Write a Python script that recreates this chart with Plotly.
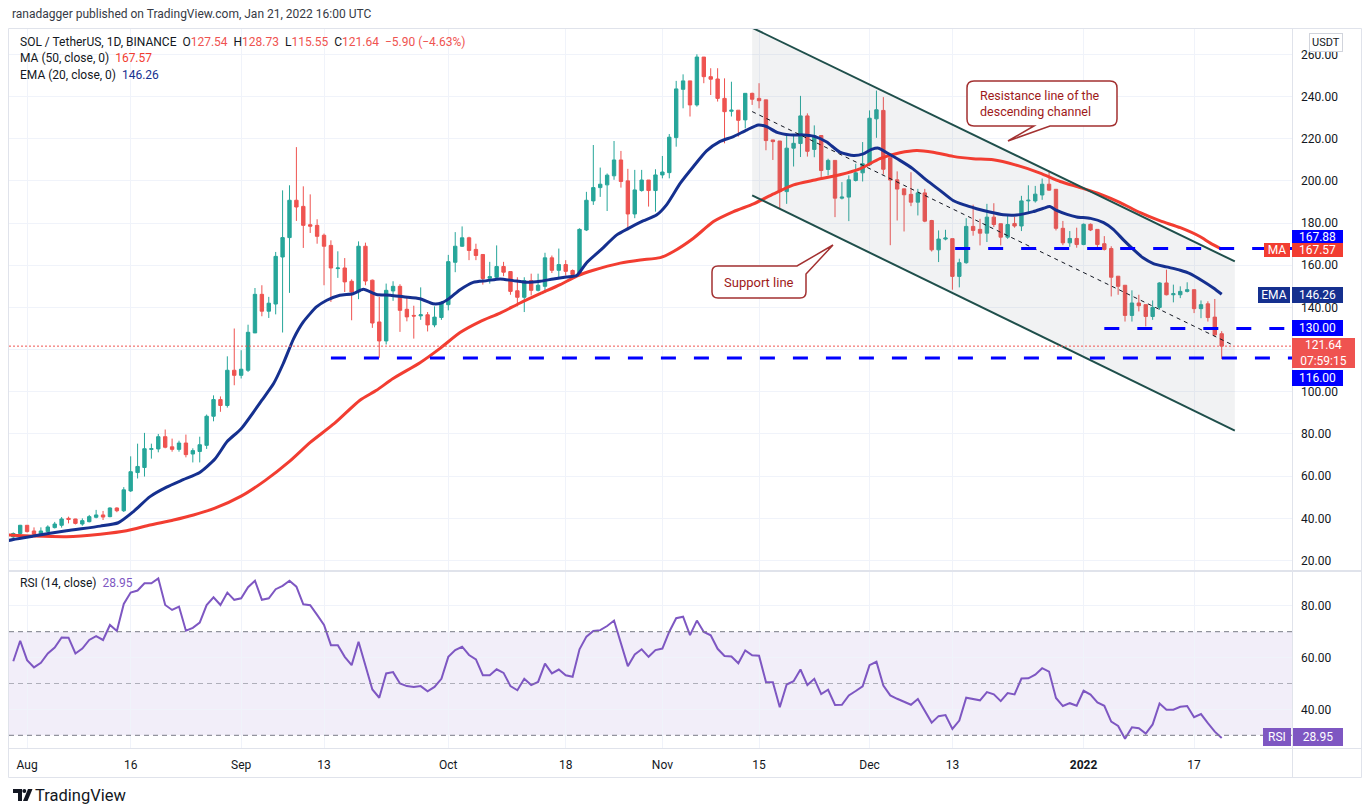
import pandas as pd
import plotly.graph_objects as go

# ---------------- data ----------------
START = "2021-07-30"

OPEN = [31.2, 32.8, 36.7, 34.0, 32.5, 33.7, 35.6, 36.7, 40.0, 39.7,
        37.3, 38.4, 40.5, 41.6, 40.8, 44.9, 43.6, 53.0, 61.7, 64.1,
        72.7, 72.9, 78.7, 73.9, 72.7, 75.7, 70.5, 71.7, 74.6, 88.4,
        96.3, 93.5, 110.2, 107.8, 110.2, 127.9, 146.2, 138.2, 141.6, 163.9,
        173.1, 190.8, 187.9, 179.2, 178.9, 174.2, 169.4, 158.4, 158.7, 152.4,
        147.3, 169.0, 152.9, 133.1, 124.1, 147.8, 150.0, 139.1, 136.2, 136.0,
        136.5, 131.7, 135.2, 141.3, 161.4, 169.0, 173.0, 167.5, 165.1, 153.8,
        154.3, 159.4, 157.0, 147.9, 144.8, 152.7, 148.1, 150.0, 163.5, 157.6,
        160.3, 157.5, 155.6, 176.7, 190.5, 196.8, 198.1, 202.4, 209.9, 200.0,
        184.3, 195.4, 200.4, 195.4, 202.8, 203.9, 220.5, 243.4, 247.4, 236.0,
        258.7, 249.4, 248.3, 239.1, 233.0, 233.5, 228.9, 241.5, 239.1, 238.4,
        219.4, 218.9, 194.9, 215.5, 217.7, 230.8, 214.9, 221.5, 205.4, 209.7,
        191.8, 192.3, 200.2, 203.8, 207.6, 229.4, 233.4, 211.0, 200.5, 196.2,
        193.6, 189.9, 194.3, 181.2, 167.3, 172.4, 172.6, 154.7, 161.2, 178.4,
        177.0, 175.2, 182.8, 179.7, 173.3, 179.8, 178.6, 190.5, 190.5, 193.3,
        198.4, 196.0, 177.5, 170.6, 172.7, 169.8, 179.4, 177.0, 170.2, 167.9,
        154.8, 150.5, 136.2, 142.1, 141.3, 135.7, 140.0, 151.6, 146.0, 146.0,
        147.6, 148.4, 139.4, 141.7, 135.4, 127.54]
HIGH = [33.3, 36.9, 36.8, 35.7, 35.7, 36.7, 38.3, 40.6, 40.8, 39.8,
        40.0, 41.6, 44.0, 43.5, 45.2, 45.2, 54.8, 69.4, 75.4, 80.5,
        75.4, 80.0, 82.1, 77.8, 76.8, 79.7, 73.2, 78.7, 89.2, 98.3,
        97.8, 116.8, 130.0, 119.7, 131.8, 149.2, 150.5, 145.0, 166.3, 195.5,
        197.9, 216.0, 197.4, 193.6, 181.8, 175.0, 171.8, 166.6, 163.4, 153.3,
        171.3, 170.7, 153.2, 145.0, 151.3, 152.4, 151.0, 144.5, 140.8, 149.5,
        137.8, 140.5, 142.9, 164.9, 175.7, 178.4, 173.5, 170.2, 165.1, 161.6,
        169.4, 161.6, 157.0, 154.3, 154.3, 156.0, 156.0, 165.9, 164.6, 167.9,
        162.4, 158.0, 177.5, 194.8, 217.0, 206.3, 203.5, 218.9, 214.2, 205.7,
        205.2, 205.2, 200.4, 205.5, 211.8, 222.2, 247.4, 250.5, 247.4, 260.0,
        258.7, 253.4, 253.4, 248.6, 247.0, 233.5, 241.5, 241.8, 246.3, 238.4,
        219.4, 218.9, 221.8, 221.8, 240.3, 232.0, 226.3, 221.5, 210.5, 209.7,
        199.4, 202.6, 208.1, 218.4, 233.4, 242.8, 239.7, 211.0, 204.5, 196.2,
        204.1, 196.2, 196.2, 181.5, 176.5, 176.8, 172.6, 163.1, 182.3, 188.7,
        182.0, 189.1, 189.4, 179.7, 183.3, 182.9, 192.9, 197.9, 197.6, 201.1,
        204.8, 196.0, 181.0, 176.2, 177.8, 179.8, 179.8, 177.0, 173.8, 169.0,
        154.8, 150.5, 148.1, 146.0, 141.3, 143.3, 151.9, 157.9, 150.8, 150.0,
        151.9, 148.4, 143.3, 142.9, 144.0, 128.73]
LOW = [30.5, 31.8, 33.3, 32.1, 32.0, 33.2, 35.2, 35.6, 37.6, 37.1,
       36.5, 38.1, 40.0, 39.2, 40.5, 42.9, 43.0, 52.5, 58.9, 59.8,
       68.3, 71.3, 73.2, 71.6, 71.6, 68.9, 66.5, 66.5, 72.9, 86.0,
       90.5, 92.5, 103.1, 106.3, 109.4, 127.9, 135.8, 135.0, 136.7, 128.1,
       146.9, 181.0, 168.2, 175.3, 170.2, 150.5, 142.6, 154.0, 147.3, 133.9,
       143.9, 150.5, 130.3, 116.1, 122.4, 143.1, 128.4, 133.4, 125.2, 134.1,
       128.6, 130.6, 134.1, 138.6, 156.7, 168.7, 162.4, 162.4, 150.8, 151.3,
       153.2, 154.8, 146.0, 140.5, 137.8, 145.7, 147.6, 146.8, 156.3, 153.8,
       155.1, 154.3, 155.1, 176.2, 188.6, 192.4, 185.7, 200.5, 196.8, 177.5,
       182.3, 194.9, 187.8, 185.4, 201.2, 201.2, 216.2, 234.4, 230.5, 235.2,
       246.3, 240.7, 237.6, 217.8, 230.5, 221.0, 224.9, 236.0, 234.4, 214.5,
       209.9, 187.0, 189.1, 206.8, 211.3, 211.5, 211.2, 201.0, 202.6, 182.8,
       191.2, 180.9, 199.7, 199.7, 207.0, 220.4, 203.0, 169.5, 181.2, 176.0,
       188.0, 183.6, 180.4, 166.5, 161.5, 171.8, 148.4, 149.5, 160.7, 174.0,
       169.4, 171.0, 178.1, 169.4, 172.5, 177.8, 176.2, 184.9, 189.7, 191.0,
       195.3, 176.5, 169.5, 168.7, 168.3, 169.5, 176.2, 167.5, 167.0, 145.2,
       146.0, 133.3, 133.3, 138.1, 131.0, 134.1, 138.9, 145.7, 142.4, 144.4,
       147.1, 137.3, 134.9, 133.3, 126.2, 115.55]
CLOSE = [32.8, 36.7, 33.7, 32.5, 34.0, 35.9, 37.3, 39.7, 39.5, 37.6,
         38.9, 40.8, 41.6, 40.6, 44.9, 43.6, 53.5, 62.1, 64.6, 73.0,
         73.0, 78.7, 73.7, 72.7, 75.7, 70.2, 72.1, 74.9, 88.4, 96.3,
         93.5, 110.2, 107.8, 110.7, 128.2, 146.2, 138.2, 142.0, 164.2, 173.1,
         190.8, 187.6, 178.9, 178.5, 173.7, 169.0, 158.7, 158.7, 152.1, 147.3,
         169.0, 152.5, 132.6, 124.1, 148.1, 150.0, 138.6, 135.5, 135.9, 136.5,
         131.7, 135.4, 142.1, 161.7, 169.0, 173.0, 167.0, 164.6, 153.7, 154.6,
         159.4, 156.7, 147.6, 144.8, 152.7, 148.1, 150.5, 163.5, 157.6, 160.3,
         157.1, 155.6, 177.0, 190.8, 196.8, 198.4, 202.7, 209.9, 199.7, 184.3,
         195.7, 200.4, 195.4, 202.8, 204.2, 220.7, 243.6, 247.4, 236.0, 258.7,
         249.4, 248.2, 239.1, 232.8, 233.5, 228.7, 241.5, 238.7, 238.0, 219.1,
         218.6, 194.9, 215.5, 217.8, 230.8, 214.0, 221.5, 204.9, 209.7, 191.8,
         192.3, 200.5, 203.8, 208.1, 229.7, 233.7, 205.5, 200.4, 196.1, 193.4,
         189.9, 194.3, 180.9, 167.3, 172.4, 172.9, 154.7, 161.2, 178.4, 176.5,
         175.2, 182.8, 179.3, 173.3, 179.3, 178.6, 190.5, 190.8, 193.7, 198.4,
         195.6, 177.5, 170.6, 172.7, 169.8, 179.4, 176.7, 169.8, 167.5, 154.3,
         150.0, 136.2, 142.1, 140.8, 135.7, 140.0, 151.6, 146.0, 146.5, 147.6,
         148.4, 139.4, 141.3, 135.2, 127.0, 121.64]

RSI = [58.6, 66.5, 59.0, 56.2, 58.0, 61.6, 63.9, 67.8, 67.7, 61.6,
       63.5, 66.8, 68.3, 66.8, 72.6, 70.3, 80.7, 85.1, 85.9, 88.7,
       88.7, 90.6, 80.3, 78.4, 79.7, 70.4, 71.5, 73.5, 80.3, 83.3,
       80.3, 85.1, 82.3, 82.9, 87.2, 89.7, 82.3, 82.9, 86.4, 87.7,
       89.7, 87.4, 80.6, 80.2, 76.5, 72.6, 64.8, 64.8, 60.3, 57.1,
       66.1, 56.7, 47.7, 44.5, 53.9, 54.4, 50.0, 49.0, 48.7, 49.0,
       47.0, 48.7, 51.8, 60.3, 62.9, 64.2, 61.0, 59.3, 53.2, 53.2,
       55.5, 54.1, 49.0, 47.4, 51.8, 49.4, 50.6, 57.7, 53.9, 55.4,
       53.2, 52.6, 63.2, 68.1, 70.3, 70.6, 72.2, 74.3, 65.5, 56.7,
       61.2, 63.2, 60.3, 62.9, 63.5, 70.0, 75.2, 75.8, 68.7, 74.3,
       69.9, 68.6, 63.4, 60.6, 60.4, 57.8, 62.8, 60.9, 60.7, 50.6,
       50.5, 40.8, 49.6, 50.9, 55.4, 49.4, 51.8, 45.9, 47.6, 41.7,
       41.8, 45.4, 47.1, 48.9, 57.1, 58.4, 49.2, 45.4, 44.1, 43.0,
       41.8, 44.0, 39.2, 34.9, 37.4, 37.8, 32.5, 35.7, 44.5, 44.0,
       43.5, 46.7, 45.8, 43.2, 46.3, 45.8, 51.9, 52.0, 53.4, 55.9,
       54.6, 44.4, 41.3, 42.4, 41.4, 47.2, 45.7, 42.7, 41.4, 35.3,
       33.6, 28.7, 33.1, 32.7, 30.7, 34.2, 42.3, 39.9, 39.9, 41.0,
       41.3, 37.0, 38.2, 34.7, 31.4, 28.95]

# moving averages read at sample days (days after START)
EMA_DAY = [-0.8, 0, 2.9, 7.7, 12.6, 15.2, 17.4, 19.8, 22.2, 24.6, 27.0, 29.2, 31, 33,
           36.0, 37.7, 39.1, 40.6, 42.0, 43.9, 45.4, 47.3, 49.2, 50.7, 52.6, 54.6,
           56.5, 58.9, 60.8, 62.0, 63.2, 64.7, 66.6, 68.6, 70.5, 72.4, 74.4, 76.3,
           78.2, 80.1, 81.6, 83.0, 85.0, 87.4, 89.1, 91.2, 93.2, 94.6, 96.6, 98.5,
           100.4, 102.3, 104.3, 106.2, 107.9, 109.1, 110.6, 112.5, 114.4, 115.9,
           117.8, 119.7, 121.7, 123.1, 124.3, 125.3, 126.5, 128.4, 130.3, 132.3,
           134.2, 136.1, 137.6, 139.5, 141.4, 143.4, 145.3, 147.7, 149.2, 150.1,
           151.1, 152.6, 154.0, 156.0, 157.9, 159.3, 160.8, 162.2, 163.6, 165.1,
           167.0, 169.0, 170.4, 172.3, 173.8, 175.0]
EMA_VAL = [29.4, 30.0, 31.6, 34.1, 36.3, 37.9, 43.2, 50.3, 54.8, 58.3, 61.7, 68.1, 76.5, 82.5,
           96.0, 103.9, 113.4, 125.2, 133.1, 140.2, 143.4, 145.8, 146.5, 148.6, 146.1, 145.8,
           145.0, 144.1, 141.7, 142.1, 144.4, 148.4, 151.9, 152.7, 153.5, 152.7, 151.9, 152.4,
           153.5, 154.4, 155.1, 161.1, 167.0, 174.4, 177.5, 181.0, 183.9, 188.6, 198.9, 206.8,
           214.2, 218.6, 221.0, 224.1, 226.5, 225.7, 223.0, 221.8, 221.8, 221.2,
           218.4, 213.6, 212.0, 212.8, 214.9, 215.5, 213.3, 209.7, 205.7, 200.2,
           195.5, 190.7, 188.7, 186.8, 185.2, 183.9, 183.8, 185.4, 187.0, 187.8,
           186.0, 184.1, 182.9, 182.2, 180.2, 177.0, 171.9, 167.5, 163.5, 160.8,
           159.2, 157.6, 156.0, 152.4, 149.2, 146.26]
MA_DAY = [-0.8, 2.9, 7.7, 12.6, 16.4, 19.8, 23.2, 26.1, 29.2, 33.0, 36.5, 40.0, 43.0,
          46.5, 50.2, 52.6, 55.0, 58.9, 61.8, 64.7, 67.6, 70.5, 73.4, 76.3, 79.2,
          81.6, 84.0, 87.9, 90.8, 93.7, 95.6, 98.5, 101.4, 104.3, 107.2, 110.1,
          113.0, 116.1, 119.7, 122.6, 125.5, 128.4, 130.8, 133.2, 136.1, 139.0,
          141.9, 145.1, 148.7, 151.6, 154.5, 157.4, 160.3, 163.2, 166.1, 169.0,
          171.9, 173.3, 175.0]
MA_VAL = [32.1, 31.6, 31.3, 32.5, 34.1, 36.8, 39.2, 41.6, 44.8, 50.5, 58.0, 67.0, 76.0,
          85.0, 96.0, 100.7, 106.3, 113.8, 120.6, 128.1, 133.3, 137.3, 142.1, 146.5, 150.8,
          154.8, 157.6, 161.0, 162.5, 163.6, 166.5, 172.8, 180.7, 185.4, 189.1, 193.8,
          198.1, 200.4, 202.9, 205.7, 210.5, 213.3, 214.4, 213.6, 211.6, 210.5,
          210.0, 207.6, 203.7, 199.7, 196.8, 193.7, 189.7, 184.9, 181.0, 177.8,
          173.5, 170.6, 167.57]

TICK_DATES = ["2021-08-01", "2021-08-16", "2021-09-01", "2021-09-13", "2021-10-01",
              "2021-10-18", "2021-11-01", "2021-11-15", "2021-12-01", "2021-12-13",
              "2022-01-01", "2022-01-17"]
TICK_TEXT = ["Aug", "16", "Sep", "13", "Oct", "18", "Nov", "15", "Dec", "13",
             "<b>2022</b>", "17"]
PRICE_TICKS = [20, 40, 60, 80, 100, 120, 140, 160, 180, 200, 220, 240, 260]
PRICE_TICK_TEXT = ["20.00", "40.00", "60.00", "80.00", "100.00", "", "140.00", "160.00",
                   "180.00", "200.00", "220.00", "240.00", "260.00"]
RSI_TICKS = [40, 60, 80]
LEVEL_VALUES = [167.88, 130.00, 116.00]
LEVEL_START_DAY = [136.4, 158.0, 46.0]
LAST_PRICE = 121.64

# descending channel drawing (day offsets, prices)
CH_DAY = [107.0, 176.9]
CH_UPPER = [272.6, 161.8]
CH_LOWER = [193.1, 81.6]
MID_END_DAY = 176.45

# ---------------- styling / helpers ----------------
G, R = "#26a69a", "#ef5350"
EMA_C, MA_C, RSI_C = "#15308f", "#f23d31", "#7e57c2"
LVL_C = "#0000ff"
GRID = "#f0f3fa"
TXT = "#131722"
FONT = "Roboto"

base = pd.Timestamp(START)
def day(d):
    return base + pd.to_timedelta(d, unit="D")
def ds(d):
    return day(d).strftime("%Y-%m-%d %H:%M:%S")

dates = pd.date_range(START, periods=len(CLOSE), freq="D")
X0, X1 = ds(-0.62), ds(185.18)

# page body has an 8px margin: the figure is drawn 8px in from the window corner
PAGE = 8
W, H = 1370 - PAGE, 812 - PAGE
PL, PR, PT, PB = 9, 1292, 29, 748          # plot area in window pixels
def px(x):
    return (x - PL) / (PR - PL)
def py(y):
    return (PB - y) / (PB - PT)

fig = go.Figure()

# channel shading
fig.add_trace(go.Scatter(
    x=[day(CH_DAY[0]), day(CH_DAY[1]), day(CH_DAY[1]), day(CH_DAY[0])],
    y=[CH_UPPER[0], CH_UPPER[1], CH_LOWER[1], CH_LOWER[0]],
    fill="toself", fillcolor="rgba(120,123,134,0.10)", line=dict(width=0),
    mode="lines", hoverinfo="skip", showlegend=False, xaxis="x", yaxis="y"))

fig.add_trace(go.Candlestick(
    x=dates, open=OPEN, high=HIGH, low=LOW, close=CLOSE,
    increasing=dict(line=dict(color=G, width=1), fillcolor=G),
    decreasing=dict(line=dict(color=R, width=1), fillcolor=R),
    whiskerwidth=0, showlegend=False, xaxis="x", yaxis="y"))

fig.add_trace(go.Scatter(x=[day(d) for d in MA_DAY], y=MA_VAL, mode="lines",
                         line=dict(color=MA_C, width=3, shape="spline", smoothing=0.6),
                         showlegend=False, hoverinfo="skip", xaxis="x", yaxis="y"))
fig.add_trace(go.Scatter(x=[day(d) for d in EMA_DAY], y=EMA_VAL, mode="lines",
                         line=dict(color=EMA_C, width=3, shape="spline", smoothing=0.6),
                         showlegend=False, hoverinfo="skip", xaxis="x", yaxis="y"))

fig.add_trace(go.Scatter(x=dates, y=RSI, mode="lines", line=dict(color=RSI_C, width=2),
                         showlegend=False, hoverinfo="skip", xaxis="x2", yaxis="y2"))

shapes = []
# RSI band and dashed levels
shapes.append(dict(type="rect", xref="x2 domain", yref="y2", x0=0, x1=1, y0=30, y1=70,
                   fillcolor="rgba(126,87,194,0.10)", line=dict(width=0), layer="below"))
for v, c in [(70, "#787b86"), (50, "rgba(120,123,134,0.55)"), (30, "#787b86")]:
    shapes.append(dict(type="line", xref="x2 domain", yref="y2", x0=0, x1=1, y0=v, y1=v,
                       line=dict(color=c, width=1, dash="5px,4px")))
# channel lines
for ys in (CH_UPPER, CH_LOWER):
    shapes.append(dict(type="line", xref="x", yref="y", x0=ds(CH_DAY[0]), x1=ds(CH_DAY[1]),
                       y0=ys[0], y1=ys[1], line=dict(color="#1f4f4b", width=2)))
mid0 = (CH_UPPER[0] + CH_LOWER[0]) / 2
slope = ((CH_UPPER[1] + CH_LOWER[1]) / 2 - mid0) / (CH_DAY[1] - CH_DAY[0])
shapes.append(dict(type="line", xref="x", yref="y", x0=ds(CH_DAY[0]), x1=ds(MID_END_DAY),
                   y0=mid0, y1=mid0 + slope * (MID_END_DAY - CH_DAY[0]),
                   line=dict(color=TXT, width=1, dash="4px,4px")))
# last price dotted line
shapes.append(dict(type="line", xref="x", yref="y", x0=X0, x1=X1, y0=LAST_PRICE, y1=LAST_PRICE,
                   line=dict(color=R, width=1, dash="2px,2px")))
# horizontal levels
for v, d0 in zip(LEVEL_VALUES, LEVEL_START_DAY):
    shapes.append(dict(type="line", xref="x", yref="y", x0=ds(d0), x1=X1, y0=v, y1=v,
                       line=dict(color=LVL_C, width=3, dash="15px,18px")))

def pth(points):
    out = []
    for cmd, *pts in points:
        coords = " ".join(f"{px(pts[i]):.5f},{py(pts[i+1]):.5f}" for i in range(0, len(pts), 2))
        out.append(f"{cmd} {coords}" if coords else cmd)
    return " ".join(out)

CALL_LINE = "#a33131"
support = pth([("M", 718, 266), ("L", 797, 266), ("L", 833, 245), ("L", 806, 274),
               ("L", 806, 292), ("Q", 806, 298, 800, 298), ("L", 718, 298),
               ("Q", 712, 298, 712, 292), ("L", 712, 272), ("Q", 712, 266, 718, 266), ("Z",)])
resist = pth([("M", 974, 81), ("L", 1110, 81), ("Q", 1117, 81, 1117, 88), ("L", 1117, 119),
              ("Q", 1117, 126, 1110, 126), ("L", 1050, 126), ("L", 1008, 141), ("L", 1034, 126),
              ("L", 974, 126), ("Q", 967, 126, 967, 119), ("L", 967, 88),
              ("Q", 967, 81, 974, 81), ("Z",)])
for p in (support, resist):
    shapes.append(dict(type="path", xref="paper", yref="paper", path=p,
                       fillcolor="white", line=dict(color=CALL_LINE, width=1.5)))

# frame and separators
shapes.append(dict(type="rect", xref="paper", yref="paper", x0=px(8.5), x1=px(1361.5),
                   y0=py(777.5), y1=py(28.5), line=dict(color="#e0e3eb", width=1)))
shapes.append(dict(type="line", xref="paper", yref="paper", x0=px(PR + 0.5), x1=px(PR + 0.5),
                   y0=py(777.5), y1=py(28.5), line=dict(color="#e0e3eb", width=1)))
shapes.append(dict(type="line", xref="paper", yref="paper", x0=px(8.5), x1=px(1361.5),
                   y0=py(748.5), y1=py(748.5), line=dict(color="#e0e3eb", width=1)))
shapes.append(dict(type="line", xref="paper", yref="paper", x0=px(8.5), x1=px(1361.5),
                   y0=py(571), y1=py(571), line=dict(color="#e0e3eb", width=2)))
# TradingView logo
shapes.append(dict(type="path", xref="paper", yref="paper",
                   path=pth([("M", 13, 789), ("L", 22, 789), ("L", 22, 801), ("L", 18, 801),
                             ("L", 18, 793), ("L", 13, 793), ("Z",)]),
                   fillcolor="#131722", line=dict(width=0)))
shapes.append(dict(type="circle", xref="paper", yref="paper", x0=px(22.3), x1=px(26.3),
                   y0=py(793), y1=py(789), fillcolor="#131722", line=dict(width=0)))
shapes.append(dict(type="path", xref="paper", yref="paper",
                   path=pth([("M", 28, 789), ("L", 32.5, 789), ("L", 27.5, 801), ("L", 23, 801), ("Z",)]),
                   fillcolor="#131722", line=dict(width=0)))

ann = []
def text(t, x, y, size=12, color=TXT, xanchor="left", **kw):
    ann.append(dict(text=t, x=px(x), y=py(y), xref="paper", yref="paper", showarrow=False,
                    xanchor=xanchor, yanchor="middle", font=dict(family=FONT, size=size, color=color), **kw))

def box(t, x0, x1, y0, y1, bg, fg="white", size=12):
    ann.append(dict(text=t, x=px((x0 + x1) / 2), y=py((y0 + y1) / 2), xref="paper", yref="paper",
                    showarrow=False, xanchor="center", yanchor="middle", bgcolor=bg,
                    width=x1 - x0, height=y1 - y0, borderpad=0, borderwidth=0,
                    font=dict(family=FONT, size=size, color=fg)))

text("ranadagger published on TradingView.com, Jan 21, 2022 16:00 UTC", 10, 14, size=12, color="#363a45")
rs = lambda v: f"<span style='color:{R}'>{v}</span>"
text("SOL / TetherUS, 1D, BINANCE  O" + rs("127.54") + "  H" + rs("128.73") + "  L" + rs("115.55")
     + "  C" + rs("121.64") + "  " + rs("−5.90 (−4.63%)"), 18, 42, size=12)
text(f"MA (50, close, 0)  <span style='color:{MA_C}'>167.57</span>", 18, 58, size=12)
text(f"EMA (20, close, 0)  <span style='color:{EMA_C}'>146.26</span>", 18, 75, size=12)
text(f"RSI (14, close)  <span style='color:{RSI_C}'>28.95</span>", 18, 583, size=12)

text("Support line", 759, 282, size=13, color="#9e1a1a", xanchor="center")
text("Resistance line of the<br>descending channel", 978, 103, size=12.5, color="#9e1a1a",
     align="left")

text("TradingView", 33, 795, size=16.5)

# price scale labels
ann.append(dict(text="USDT", x=px(1326), y=py(42.5), xref="paper", yref="paper", showarrow=False,
                xanchor="center", yanchor="middle",
                bgcolor="white", bordercolor="#d1d4dc", borderwidth=1, borderpad=2,
                font=dict(family=FONT, size=11, color=TXT)))
box("167.88", 1292, 1343, 229.5, 242.5, LVL_C)
box("MA", 1264, 1290, 243, 257, MA_C)
box("167.57", 1292, 1343, 243, 257, MA_C)
box("EMA", 1258, 1290, 287, 303, EMA_C)
box("146.26", 1292, 1343, 287, 303, EMA_C)
box("130.00", 1292, 1343, 320, 336, LVL_C)
box("121.64<br>07:59:15", 1292, 1355, 338, 368, R)
box("116.00", 1292, 1343, 370, 386, LVL_C)
box("RSI", 1263, 1291, 728, 746, RSI_C)
box("28.95", 1293, 1343, 728, 746, RSI_C)

PRICE_DOM = [(PB - 570) / (PB - PT), 1]
RSI_DOM = [0, (PB - 572) / (PB - PT)]

axis_common = dict(showgrid=True, gridcolor=GRID, gridwidth=1, zeroline=False, showline=False,
                   ticks="", fixedrange=True)
fig.update_layout(
    width=W, height=H, autosize=False,
    margin=dict(l=PL - PAGE, r=(1370 - PAGE) - (PR - PAGE), t=PT - PAGE, b=(812 - PAGE) - (PB - PAGE)),
    paper_bgcolor="white", plot_bgcolor="white",
    font=dict(family=FONT, color=TXT, size=12),
    showlegend=False, hovermode=False,
    xaxis=dict(type="date", range=[X0, X1], domain=[0, 1], anchor="y", tickvals=TICK_DATES,
               showticklabels=False, rangeslider=dict(visible=False), **axis_common),
    xaxis2=dict(type="date", range=[X0, X1], domain=[0, 1], anchor="y2", matches="x",
                tickvals=TICK_DATES, ticktext=TICK_TEXT, ticklabelstandoff=8,
                tickfont=dict(family=FONT, size=12, color=TXT), **axis_common),
    yaxis=dict(domain=PRICE_DOM, range=[15.5, 272.0], side="right", anchor="x",
               tickvals=PRICE_TICKS, ticktext=PRICE_TICK_TEXT,
               ticklabelstandoff=8, tickfont=dict(family=FONT, size=12, color=TXT), **axis_common),
    yaxis2=dict(domain=RSI_DOM, range=[25.1, 93.05], side="right", anchor="x2",
                tickvals=RSI_TICKS, ticktext=[f"{v:.2f}" for v in RSI_TICKS],
                ticklabelstandoff=8, tickfont=dict(family=FONT, size=12, color=TXT), **axis_common),
    shapes=shapes, annotations=ann,
)

fig.write_html("out.html", config={"displayModeBar": False})
